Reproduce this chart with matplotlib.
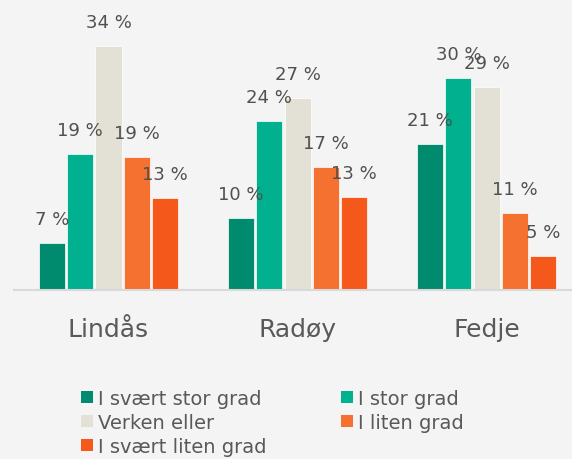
import matplotlib.pyplot as plt
from matplotlib.patches import Patch
import numpy as np

# data
places = ['Lindås', 'Radøy', 'Fedje']
answers = ['I svært stor grad', 'I stor grad', 'Verken eller', 'I liten grad', 'I svært liten grad']
lindas = [6.6, 19.0, 34.0, 18.6, 12.8]
radoy = [10.0, 23.5, 26.8, 17.2, 12.9]
fedje = [20.4, 29.5, 28.3, 10.7, 4.8]
lindas_lbl = [7, 19, 34, 19, 13]
radoy_lbl = [10, 24, 27, 17, 13]
fedje_lbl = [21, 30, 29, 11, 5]

colours = ['#008A6E', '#00B08E', '#E3E1D6', '#F5712F', '#F4581A']
grey_txt = '#595959'
bg = '#F4F4F4'

values = np.array([lindas, radoy, fedje])
labels = np.array([lindas_lbl, radoy_lbl, fedje_lbl])

fig = plt.figure(figsize=(5.72, 4.6), dpi=100, facecolor=bg)
ax = fig.add_axes([14 / 572, 169 / 460, 558 / 572, 287 / 460])
ax.set_facecolor(bg)

x = np.arange(len(places))
step = 0.15
width = 0.138
handles = []
for j, name in enumerate(answers):
    pos = x + (j - 2) * step
    bars = ax.bar(pos, values[:, j], width, color=colours[j],
                  edgecolor='#FFFFFF', linewidth=0.5, label=name)
    handles.append(Patch(facecolor=colours[j], edgecolor='none', label=name))
    for b, lab in zip(bars, labels[:, j]):
        ax.annotate(f'{lab} %', (b.get_x() + b.get_width() / 2, b.get_height()),
                    xytext=(0, 13.7), textcoords='offset points',
                    ha='center', va='baseline', fontsize=13, color='#505050')

ax.set_xlim(-0.5, 2.451)
ax.set_ylim(0, 40)
for s in ['top', 'right', 'left']:
    ax.spines[s].set_visible(False)
ax.spines['bottom'].set_color('#D9D9D9')
ax.spines['bottom'].set_linewidth(1.5)
ax.set_yticks([])
ax.set_xticks([])
for i, p in enumerate(places):
    ax.annotate(p, (i, 0), xycoords=('data', 'axes fraction'),
                xytext=(0, -32.9), textcoords='offset points',
                ha='center', va='baseline', fontsize=18, color=grey_txt)

# legend laid out row by row like the original
order = [0, 2, 4, 1, 3]
fig.legend([handles[k] for k in order], [answers[k] for k in order],
           ncol=2, loc='upper left', bbox_to_anchor=(81 / 572, 1 - 390 / 460),
           frameon=False, fontsize=14, labelcolor=grey_txt,
           handlelength=0.62, handleheight=0.62, handletextpad=0.26,
           columnspacing=3.8, labelspacing=0.25, borderpad=0, borderaxespad=0)

fig.savefig('out.png', dpi=100, facecolor=bg)
